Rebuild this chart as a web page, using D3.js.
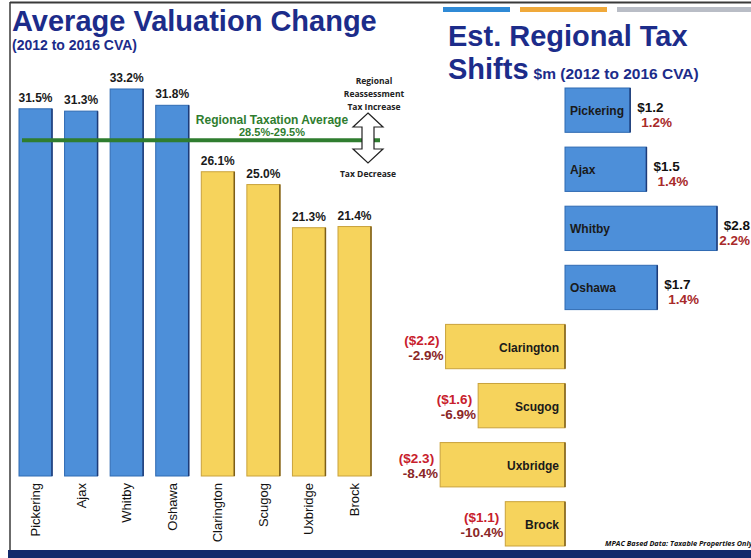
<!DOCTYPE html>
<html>
<head>
<meta charset="utf-8">
<script src="https://cdn.jsdelivr.net/npm/d3@7"></script>
<style>
  body { margin: 0; background: #fff; }
  svg { display: block; }
</style>
</head>
<body>
<svg></svg>
<script>
// left chart: average valuation change (%)
var towns = ["Pickering", "Ajax", "Whitby", "Oshawa", "Clarington", "Scugog", "Uxbridge", "Brock"];
var valuationChange = [31.5, 31.3, 33.2, 31.8, 26.1, 25.0, 21.3, 21.4];
var regionalAverage = 28.8;

// right chart: estimated regional tax shifts ($m and %)
var taxShift = [1.2, 1.5, 2.8, 1.7, -2.2, -1.6, -2.3, -1.1];
var taxShiftPct = [1.2, 1.4, 2.2, 1.4, -2.9, -6.9, -8.4, -10.4];

var svgWidth = 751, svgHeight = 558;
var font = "'Liberation Sans', Arial, sans-serif";
var navy = "#1c2c8a";

var svg = d3.select("svg")
    .attr("width", svgWidth)
    .attr("height", svgHeight);

var color = function(i) { return i < 4 ? "#4d8fd9" : "#f6d35c"; };
var stroke = function(i) { return i < 4 ? "#2f6ab2" : "#c9a23c"; };
var edge = function(i) { return i < 4 ? "#1d3b78" : "#7d5e18"; };

// frame
svg.append("line").attr("x1", 10).attr("x2", svgWidth).attr("y1", 2.5).attr("y2", 2.5)
    .attr("stroke", "#3a3a3a").attr("stroke-width", 2);
svg.append("line").attr("x1", 10).attr("x2", 10).attr("y1", 2).attr("y2", 551)
    .attr("stroke", "#3a3a3a").attr("stroke-width", 1.5);
svg.append("rect").attr("x", 443).attr("y", 7).attr("width", 67).attr("height", 5).attr("fill", "#2f8ad6");
svg.append("rect").attr("x", 520).attr("y", 7).attr("width", 87).attr("height", 5).attr("fill", "#f0a93a");
svg.append("rect").attr("x", 617).attr("y", 7).attr("width", 134).attr("height", 5).attr("fill", "#b9bdc6");
svg.append("rect").attr("x", 8).attr("y", 550).attr("width", svgWidth - 8).attr("height", 8).attr("fill", "#12296b");

svg.append("text").attr("x", 605).attr("y", 546)
    .attr("font-family", "'Open Sans', sans-serif").attr("font-size", 7.3)
    .attr("font-style", "italic").attr("font-weight", "bold").attr("fill", "#111")
    .text("MPAC Based Data:  Taxable Properties Only");

// titles
svg.append("text").attr("x", 12).attr("y", 31)
    .attr("font-family", font).attr("font-weight", "bold").attr("font-size", 29)
    .attr("fill", navy).text("Average Valuation Change");
svg.append("text").attr("x", 12).attr("y", 50)
    .attr("font-family", font).attr("font-weight", "bold").attr("font-size", 14)
    .attr("fill", navy).text("(2012 to 2016 CVA)");
svg.append("text").attr("x", 448).attr("y", 46)
    .attr("font-family", font).attr("font-weight", "bold").attr("font-size", 29)
    .attr("fill", navy).text("Est. Regional Tax");
var t2 = svg.append("text").attr("x", 448).attr("y", 79)
    .attr("font-family", font).attr("font-weight", "bold").attr("fill", navy);
t2.append("tspan").attr("font-size", 29).text("Shifts");
t2.append("tspan").attr("dx", 5).attr("font-size", 15.5).text("$m (2012 to 2016 CVA)");

// ---- left chart ----
var x = d3.scaleBand()
    .domain(towns)
    .range([19, 371])
    .paddingInner(0.276)
    .paddingOuter(0);

var y = d3.scaleLinear()
    .domain([0, 35])
    .range([476, 68]);

var left = svg.append("g");

left.selectAll("rect.bar")
    .data(towns)
    .enter()
    .append("rect")
    .attr("class", "bar")
    .attr("x", d => x(d))
    .attr("y", (d, i) => y(valuationChange[i]))
    .attr("width", x.bandwidth())
    .attr("height", (d, i) => y(0) - y(valuationChange[i]))
    .attr("fill", (d, i) => color(i))
    .attr("stroke", (d, i) => stroke(i))
    .attr("stroke-width", 1);

// darker right edge
left.selectAll("line.edge")
    .data(towns)
    .enter()
    .append("line")
    .attr("x1", d => x(d) + x.bandwidth())
    .attr("x2", d => x(d) + x.bandwidth())
    .attr("y1", (d, i) => y(valuationChange[i]))
    .attr("y2", y(0))
    .attr("stroke", (d, i) => edge(i))
    .attr("stroke-width", 1.5);

left.selectAll("text.val")
    .data(towns)
    .enter()
    .append("text")
    .attr("x", d => x(d) + x.bandwidth() / 2)
    .attr("y", (d, i) => y(valuationChange[i]) - 7)
    .attr("text-anchor", "middle")
    .attr("font-family", font).attr("font-weight", "bold").attr("font-size", 12)
    .attr("fill", "#1a1a1a")
    .text((d, i) => valuationChange[i].toFixed(1) + "%");

left.selectAll("text.cat")
    .data(towns)
    .enter()
    .append("text")
    .attr("transform", d => "translate(" + (x(d) + x.bandwidth() / 2) + ",483) rotate(-90)")
    .attr("dy", "0.35em")
    .attr("text-anchor", "end")
    .attr("font-family", font).attr("font-size", 13)
    .attr("fill", "#111")
    .text(d => d);

// regional average line
left.append("line")
    .attr("x1", 22).attr("x2", 380)
    .attr("y1", y(regionalAverage)).attr("y2", y(regionalAverage))
    .attr("stroke", "#2f7d2f").attr("stroke-width", 4);
left.append("text").attr("x", 272).attr("y", y(regionalAverage) - 16)
    .attr("text-anchor", "middle")
    .attr("font-family", font).attr("font-weight", "bold").attr("font-size", 12)
    .attr("fill", "#2f7d2f").text("Regional Taxation Average");
left.append("text").attr("x", 272).attr("y", y(regionalAverage) - 4)
    .attr("text-anchor", "middle")
    .attr("font-family", font).attr("font-weight", "bold").attr("font-size", 11)
    .attr("fill", "#2f7d2f").text("28.5%-29.5%");

// double arrow
var arrow = left.append("g").attr("transform", "translate(368,113)");
arrow.append("path")
    .attr("d", "M0,0 L15,14 L6,14 L6,36 L15,36 L0,50 L-15,36 L-6,36 L-6,14 L-15,14 Z")
    .attr("fill", "#fff").attr("stroke", "#222").attr("stroke-width", 1.2);

var smallFont = "'Open Sans', sans-serif";
["Regional", "Reassessment", "Tax Increase"].forEach(function(s, i) {
    left.append("text").attr("x", 374).attr("y", 84 + i * 13)
        .attr("text-anchor", "middle")
        .attr("font-family", smallFont).attr("font-weight", "bold").attr("font-size", 8.5)
        .attr("fill", "#222").text(s);
});
left.append("text").attr("x", 368).attr("y", 177)
    .attr("text-anchor", "middle")
    .attr("font-family", smallFont).attr("font-weight", "bold").attr("font-size", 8.5)
    .attr("fill", "#222").text("Tax Decrease");

// ---- right chart ----
var yr = d3.scaleBand()
    .domain(towns)
    .range([88, 546])
    .paddingInner(0.25)
    .paddingOuter(0);

var xr = d3.scaleLinear()
    .domain([0, 2.8])
    .range([565, 717]);

var right = svg.append("g");

right.selectAll("rect.shift")
    .data(towns)
    .enter()
    .append("rect")
    .attr("x", (d, i) => Math.min(xr(0), xr(taxShift[i])))
    .attr("y", d => yr(d))
    .attr("width", (d, i) => Math.abs(xr(taxShift[i]) - xr(0)))
    .attr("height", yr.bandwidth())
    .attr("fill", (d, i) => color(i))
    .attr("stroke", (d, i) => stroke(i))
    .attr("stroke-width", 1);

right.selectAll("line.edge")
    .data(towns)
    .enter()
    .append("line")
    .attr("x1", (d, i) => Math.max(xr(0), xr(taxShift[i])))
    .attr("x2", (d, i) => Math.max(xr(0), xr(taxShift[i])))
    .attr("y1", d => yr(d))
    .attr("y2", d => yr(d) + yr.bandwidth())
    .attr("stroke", (d, i) => edge(i))
    .attr("stroke-width", 1.5);

// town names inside bars
right.selectAll("text.name")
    .data(towns)
    .enter()
    .append("text")
    .attr("x", (d, i) => taxShift[i] > 0 ? xr(0) + 5 : xr(0) - 6)
    .attr("y", d => yr(d) + yr.bandwidth() / 2 + 5)
    .attr("text-anchor", (d, i) => taxShift[i] > 0 ? "start" : "end")
    .attr("font-family", font).attr("font-weight", "bold").attr("font-size", 12)
    .attr("fill", "#1a1a1a")
    .text(d => d);

var money = function(v) { return v > 0 ? "$" + v.toFixed(1) : "($" + Math.abs(v).toFixed(1) + ")"; };

var moneyText = right.selectAll("text.money")
    .data(towns)
    .enter()
    .append("text")
    .attr("x", (d, i) => taxShift[i] > 0 ? xr(taxShift[i]) + 7 : xr(taxShift[i]) - 6)
    .attr("y", (d, i) => yr(d) + yr.bandwidth() / 2 + (taxShift[i] > 0 ? 2 : -2))
    .attr("text-anchor", (d, i) => taxShift[i] > 0 ? "start" : "end")
    .attr("font-family", font).attr("font-weight", "bold").attr("font-size", 13.5)
    .attr("fill", (d, i) => taxShift[i] > 0 ? "#111" : "#c8202c")
    .text((d, i) => money(taxShift[i]));

var pctText = right.selectAll("text.pct")
    .data(towns)
    .enter()
    .append("text")
    .attr("x", (d, i) => taxShift[i] > 0 ? xr(taxShift[i]) + 11 : xr(taxShift[i]) - 2)
    .attr("y", (d, i) => yr(d) + yr.bandwidth() / 2 + (taxShift[i] > 0 ? 17 : 13))
    .attr("text-anchor", (d, i) => taxShift[i] > 0 ? "start" : "end")
    .attr("font-family", font).attr("font-weight", "bold").attr("font-size", 13.5)
    .attr("fill", (d, i) => taxShift[i] > 0 ? "#a82a2a" : "#8a2626")
    .text((d, i) => taxShiftPct[i].toFixed(1) + "%");

// keep labels inside the picture at the right edge
[moneyText, pctText].forEach(function(sel) {
    sel.each(function() {
        var el = d3.select(this);
        var w = this.getComputedTextLength();
        var xs = +el.attr("x");
        if (el.attr("text-anchor") === "start" && xs + w > svgWidth - 1) {
            el.attr("x", svgWidth - 1 - w);
        }
    });
});
</script>
</body>
</html>
